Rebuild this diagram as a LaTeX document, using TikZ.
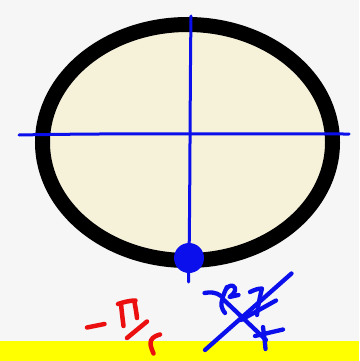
\documentclass[tikz,border=0pt]{standalone}
\definecolor{bgcol}{RGB}{246,246,246}
\definecolor{cream}{RGB}{246,242,218}
\definecolor{penblue}{RGB}{10,15,235}
\definecolor{penred}{RGB}{235,15,15}
\definecolor{band}{RGB}{255,255,0}
\begin{document}
\begin{tikzpicture}[x=1pt,y=-1pt,
  bluepen/.style={draw=penblue,line width=4.3pt,line cap=round,line join=round},
  redpen/.style={draw=penred,line width=4.5pt,line cap=round,line join=round}]
\fill[bgcol] (0,0) rectangle (359,361);
\useasboundingbox (0,0) rectangle (359,361);
\fill[band] (0,340.5) rectangle (359,361);
% ellipse ring
\draw[line width=15pt,fill=cream] (187.5,142.5) ellipse [x radius=145, y radius=118];
% axes
\draw[bluepen,line width=3pt] (19,135) .. controls (120,133) and (250,134) .. (349,134);
\draw[bluepen,line width=3pt] (191,16) .. controls (190,90) and (190,200) .. (189,258) -- (188.5,282);
\fill[penblue] (189,258) circle (15);
% red handwriting
\draw[redpen] (87,327.5) -- (104.5,324);
\draw[redpen] (123.5,326) .. controls (122.5,318) and (121.5,310) .. (121,303.5);
\draw[redpen] (118,304) .. controls (124,302) and (130,300.5) .. (135.5,300.5);
\draw[redpen] (134.5,302) .. controls (135.5,308) and (136.5,313) .. (137,318);
\draw[redpen] (127,338) -- (147,321.5);
\draw[redpen] (160,334.5) .. controls (154,336) and (150,339) .. (150.5,344) .. controls (151,348) and (152.5,351) .. (153.5,353.5);
% blue crossed-out handwriting
\draw[bluepen] (205,350) -- (291.5,273.5);
\draw[bluepen] (204.5,293) .. controls (210,292) and (216,292) .. (221,296);
\draw[bluepen] (227,287) .. controls (223,295) and (221,302) .. (221.5,306) .. controls (222,309) and (223.5,311) .. (225,313);
\draw[bluepen] (226.5,288.5) .. controls (229,285.5) and (233,284) .. (235,288) .. controls (236,292) and (232,295) .. (229.5,297) -- (238.5,295);
\draw[bluepen] (224,300) -- (266,340);
\draw[bluepen] (250,292) .. controls (254,290) and (258,288.5) .. (262,288.5) .. controls (260,296) and (258,306) .. (257,315);
\draw[bluepen] (241,320) -- (276,300.5);
\draw[bluepen] (255,336) -- (283,329.5);
\draw[bluepen] (263,327) .. controls (264,335) and (265,342) .. (265.5,349);
\end{tikzpicture}
\end{document}
